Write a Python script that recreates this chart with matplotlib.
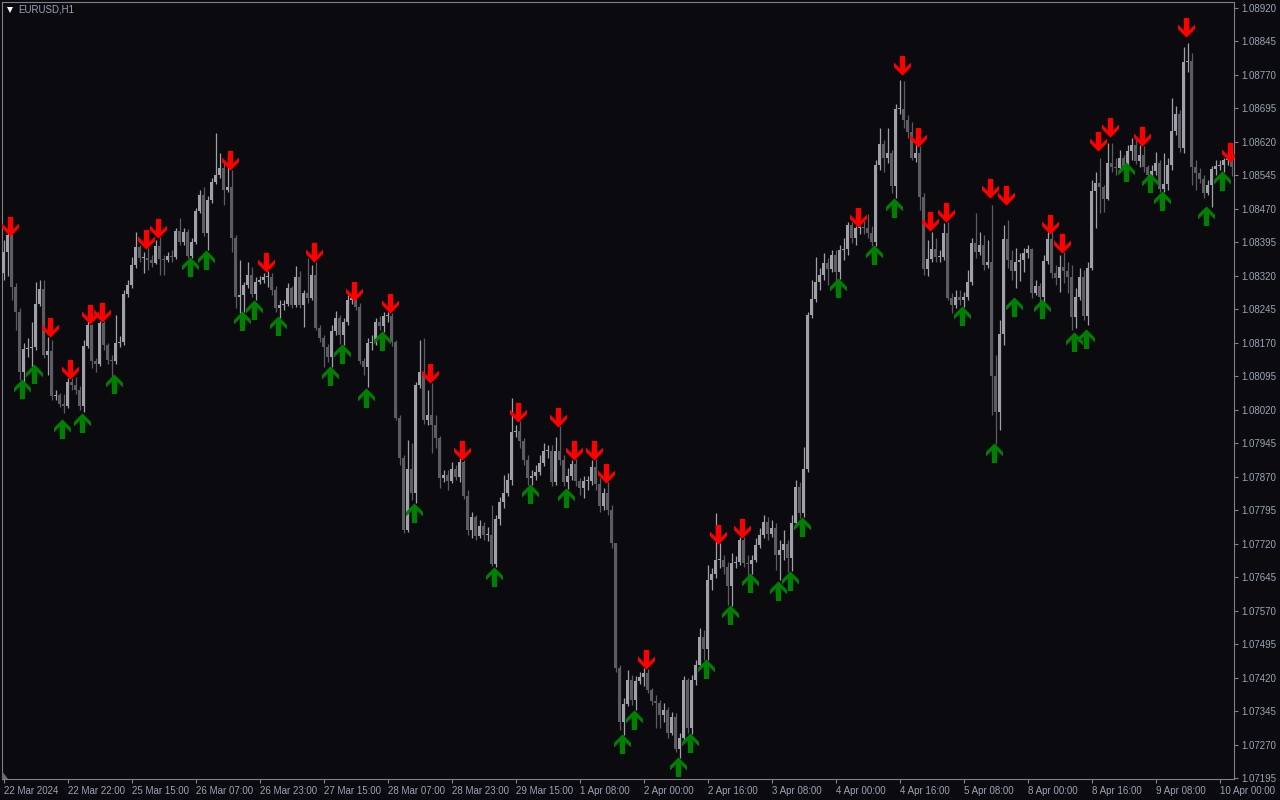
import matplotlib
matplotlib.use("Agg")
import matplotlib.pyplot as plt
import numpy as np
from matplotlib.path import Path
from matplotlib.patches import Polygon

plt.rcParams["font.family"] = ["Liberation Sans", "DejaVu Sans"]

# EURUSD H1, 22 Mar 2024 06:00 .. 10 Apr 2024 03:00 (one value per hourly bar)
first_open = 1.08326
close = [
    1.08374, 1.08412, 1.08295, 1.08239, 1.08105, 1.08156, 1.08158, 1.08161, 1.08257, 1.08291,
    1.08143, 1.08152, 1.08051, 1.08053, 1.08033, 1.08029, 1.08082, 1.08076, 1.08064, 1.08029,
    1.08163, 1.08210, 1.08129, 1.08123, 1.08214, 1.08165, 1.08132, 1.08129, 1.08170, 1.08172,
    1.08279, 1.08300, 1.08344, 1.08385, 1.08360, 1.08360, 1.08356, 1.08349, 1.08387, 1.08358,
    1.08356, 1.08365, 1.08362, 1.08421, 1.08396, 1.08418, 1.08365, 1.08396, 1.08465, 1.08501,
    1.08416, 1.08490, 1.08530, 1.08546, 1.08562, 1.08512, 1.08519, 1.08405, 1.08273, 1.08277,
    1.08300, 1.08322, 1.08279, 1.08306, 1.08311, 1.08318, 1.08318, 1.08288, 1.08248, 1.08255,
    1.08257, 1.08293, 1.08255, 1.08318, 1.08255, 1.08282, 1.08270, 1.08322, 1.08203, 1.08181,
    1.08161, 1.08138, 1.08197, 1.08226, 1.08188, 1.08217, 1.08266, 1.08270, 1.08250, 1.08129,
    1.08116, 1.08170, 1.08172, 1.08217, 1.08208, 1.08230, 1.08230, 1.08172, 1.08002, 1.07912,
    1.07751, 1.07887, 1.07834, 1.08076, 1.08105, 1.07997, 1.08008, 1.07986, 1.07957, 1.07867,
    1.07874, 1.07861, 1.07887, 1.07870, 1.07903, 1.07827, 1.07751, 1.07780, 1.07737, 1.07760,
    1.07740, 1.07740, 1.07675, 1.07775, 1.07814, 1.07834, 1.07863, 1.07970, 1.07973, 1.07950,
    1.07908, 1.07867, 1.07872, 1.07881, 1.07901, 1.07928, 1.07928, 1.07858, 1.07928, 1.07908,
    1.07858, 1.07872, 1.07899, 1.07861, 1.07845, 1.07861, 1.07861, 1.07892, 1.07854, 1.07805,
    1.07834, 1.07796, 1.07722, 1.07442, 1.07321, 1.07361, 1.07415, 1.07370, 1.07413, 1.07422,
    1.07430, 1.07392, 1.07368, 1.07363, 1.07336, 1.07348, 1.07296, 1.07332, 1.07260, 1.07285,
    1.07415, 1.07307, 1.07415, 1.07448, 1.07511, 1.07484, 1.07639, 1.07652, 1.07684, 1.07684,
    1.07668, 1.07625, 1.07677, 1.07679, 1.07728, 1.07677, 1.07675, 1.07684, 1.07717, 1.07740,
    1.07769, 1.07742, 1.07755, 1.07695, 1.07706, 1.07719, 1.07688, 1.07766, 1.07847, 1.07789,
    1.07887, 1.08232, 1.08268, 1.08306, 1.08322, 1.08349, 1.08335, 1.08367, 1.08329, 1.08378,
    1.08380, 1.08434, 1.08405, 1.08427, 1.08430, 1.08427, 1.08416, 1.08396, 1.08568, 1.08615,
    1.08584, 1.08595, 1.08521, 1.08694, 1.08694, 1.08669, 1.08642, 1.08584, 1.08595, 1.08497,
    1.08335, 1.08358, 1.08380, 1.08362, 1.08362, 1.08416, 1.08270, 1.08255, 1.08273, 1.08266,
    1.08273, 1.08306, 1.08394, 1.08374, 1.08389, 1.08344, 1.08351, 1.08096, 1.08015, 1.08190,
    1.08403, 1.08356, 1.08331, 1.08351, 1.08356, 1.08371, 1.08380, 1.08282, 1.08297, 1.08273,
    1.08353, 1.08403, 1.08326, 1.08315, 1.08340, 1.08331, 1.08318, 1.08228, 1.08273, 1.08318,
    1.08230, 1.08338, 1.08510, 1.08528, 1.08519, 1.08492, 1.08573, 1.08564, 1.08562, 1.08584,
    1.08564, 1.08600, 1.08613, 1.08577, 1.08591, 1.08564, 1.08546, 1.08555, 1.08573, 1.08515,
    1.08526, 1.08568, 1.08645, 1.08683, 1.08606, 1.08799, 1.08801, 1.08564, 1.08550, 1.08537,
    1.08506, 1.08524, 1.08559, 1.08566, 1.08568, 1.08580, 1.08582, 1.08564,
]
high = [
    1.08400, 1.08423, 1.08414, 1.08304, 1.08248, 1.08170, 1.08181, 1.08217, 1.08306, 1.08311,
    1.08311, 1.08183, 1.08176, 1.08064, 1.08058, 1.08055, 1.08091, 1.08091, 1.08094, 1.08073,
    1.08176, 1.08219, 1.08212, 1.08136, 1.08219, 1.08219, 1.08170, 1.08143, 1.08232, 1.08185,
    1.08288, 1.08311, 1.08362, 1.08418, 1.08389, 1.08374, 1.08382, 1.08367, 1.08400, 1.08407,
    1.08367, 1.08374, 1.08378, 1.08427, 1.08450, 1.08427, 1.08425, 1.08405, 1.08472, 1.08512,
    1.08519, 1.08499, 1.08539, 1.08640, 1.08595, 1.08580, 1.08591, 1.08557, 1.08412, 1.08356,
    1.08306, 1.08351, 1.08340, 1.08318, 1.08320, 1.08326, 1.08331, 1.08326, 1.08297, 1.08266,
    1.08266, 1.08304, 1.08297, 1.08342, 1.08331, 1.08288, 1.08360, 1.08344, 1.08351, 1.08210,
    1.08188, 1.08167, 1.08210, 1.08241, 1.08232, 1.08226, 1.08277, 1.08284, 1.08275, 1.08259,
    1.08136, 1.08181, 1.08188, 1.08226, 1.08230, 1.08239, 1.08239, 1.08237, 1.08176, 1.08008,
    1.07919, 1.07952, 1.07946, 1.08082, 1.08176, 1.08181, 1.08064, 1.08080, 1.08008, 1.07961,
    1.07885, 1.07885, 1.07903, 1.07896, 1.07912, 1.07908, 1.07840, 1.07791, 1.07784, 1.07773,
    1.07769, 1.07758, 1.07807, 1.07784, 1.07825, 1.07874, 1.07878, 1.08046, 1.07986, 1.07995,
    1.07957, 1.07919, 1.07885, 1.07896, 1.07919, 1.07946, 1.07941, 1.07941, 1.07959, 1.07984,
    1.07919, 1.07890, 1.07908, 1.07910, 1.07867, 1.07872, 1.07872, 1.07908, 1.07910, 1.07867,
    1.07845, 1.07858, 1.07807, 1.07722, 1.07448, 1.07374, 1.07437, 1.07426, 1.07424, 1.07433,
    1.07442, 1.07439, 1.07397, 1.07381, 1.07370, 1.07363, 1.07354, 1.07343, 1.07341, 1.07296,
    1.07424, 1.07419, 1.07426, 1.07460, 1.07531, 1.07527, 1.07672, 1.07666, 1.07789, 1.07722,
    1.07695, 1.07679, 1.07699, 1.07693, 1.07735, 1.07735, 1.07695, 1.07695, 1.07733, 1.07755,
    1.07784, 1.07780, 1.07773, 1.07766, 1.07728, 1.07751, 1.07728, 1.07784, 1.07863, 1.07858,
    1.07937, 1.08239, 1.08311, 1.08362, 1.08338, 1.08371, 1.08360, 1.08378, 1.08378, 1.08389,
    1.08405, 1.08441, 1.08441, 1.08432, 1.08432, 1.08445, 1.08459, 1.08432, 1.08580, 1.08651,
    1.08624, 1.08651, 1.08602, 1.08705, 1.08759, 1.08757, 1.08680, 1.08665, 1.08613, 1.08611,
    1.08506, 1.08400, 1.08418, 1.08405, 1.08378, 1.08438, 1.08441, 1.08282, 1.08288, 1.08288,
    1.08284, 1.08333, 1.08405, 1.08461, 1.08418, 1.08412, 1.08400, 1.08479, 1.08143, 1.08221,
    1.08434, 1.08445, 1.08378, 1.08382, 1.08371, 1.08382, 1.08389, 1.08382, 1.08311, 1.08304,
    1.08367, 1.08418, 1.08418, 1.08344, 1.08367, 1.08374, 1.08351, 1.08344, 1.08293, 1.08338,
    1.08333, 1.08351, 1.08535, 1.08553, 1.08584, 1.08524, 1.08618, 1.08618, 1.08584, 1.08602,
    1.08591, 1.08613, 1.08629, 1.08624, 1.08613, 1.08611, 1.08568, 1.08568, 1.08598, 1.08580,
    1.08595, 1.08584, 1.08718, 1.08701, 1.08692, 1.08833, 1.08842, 1.08819, 1.08580, 1.08562,
    1.08546, 1.08535, 1.08566, 1.08580, 1.08580, 1.08584, 1.08595, 1.08598,
]
low = [
    1.08311, 1.08320, 1.08266, 1.08199, 1.08087, 1.08071, 1.08138, 1.08116, 1.08154, 1.08253,
    1.08136, 1.08098, 1.08042, 1.08042, 1.08026, 1.08013, 1.08024, 1.08064, 1.08055, 1.08020,
    1.08015, 1.08158, 1.08114, 1.08105, 1.08118, 1.08154, 1.08123, 1.08094, 1.08123, 1.08161,
    1.08165, 1.08273, 1.08293, 1.08338, 1.08351, 1.08326, 1.08333, 1.08340, 1.08347, 1.08322,
    1.08322, 1.08351, 1.08351, 1.08358, 1.08389, 1.08389, 1.08360, 1.08360, 1.08391, 1.08461,
    1.08409, 1.08378, 1.08483, 1.08526, 1.08539, 1.08479, 1.08508, 1.08374, 1.08248, 1.08237,
    1.08239, 1.08293, 1.08273, 1.08266, 1.08302, 1.08304, 1.08295, 1.08277, 1.08239, 1.08226,
    1.08244, 1.08253, 1.08248, 1.08250, 1.08248, 1.08206, 1.08259, 1.08266, 1.08199, 1.08172,
    1.08116, 1.08127, 1.08116, 1.08188, 1.08167, 1.08165, 1.08210, 1.08257, 1.08244, 1.08123,
    1.08098, 1.08071, 1.08154, 1.08165, 1.08199, 1.08194, 1.08217, 1.08163, 1.07997, 1.07896,
    1.07744, 1.07746, 1.07818, 1.07811, 1.08069, 1.07988, 1.07986, 1.07923, 1.07934, 1.07845,
    1.07858, 1.07840, 1.07855, 1.07863, 1.07858, 1.07820, 1.07740, 1.07733, 1.07728, 1.07733,
    1.07728, 1.07726, 1.07670, 1.07668, 1.07762, 1.07800, 1.07827, 1.07852, 1.07959, 1.07934,
    1.07896, 1.07852, 1.07852, 1.07863, 1.07874, 1.07895, 1.07912, 1.07849, 1.07852, 1.07896,
    1.07849, 1.07843, 1.07863, 1.07849, 1.07829, 1.07822, 1.07840, 1.07852, 1.07840, 1.07791,
    1.07796, 1.07784, 1.07710, 1.07433, 1.07303, 1.07292, 1.07357, 1.07359, 1.07348, 1.07406,
    1.07401, 1.07386, 1.07359, 1.07307, 1.07307, 1.07321, 1.07285, 1.07292, 1.07254, 1.07240,
    1.07276, 1.07296, 1.07294, 1.07404, 1.07442, 1.07460, 1.07460, 1.07616, 1.07643, 1.07666,
    1.07652, 1.07583, 1.07581, 1.07666, 1.07672, 1.07668, 1.07650, 1.07652, 1.07679, 1.07710,
    1.07733, 1.07728, 1.07735, 1.07661, 1.07639, 1.07684, 1.07657, 1.07659, 1.07758, 1.07778,
    1.07780, 1.07881, 1.08226, 1.08262, 1.08288, 1.08311, 1.08300, 1.08329, 1.08297, 1.08313,
    1.08356, 1.08367, 1.08394, 1.08389, 1.08414, 1.08414, 1.08405, 1.08387, 1.08387, 1.08557,
    1.08553, 1.08573, 1.08506, 1.08494, 1.08683, 1.08651, 1.08629, 1.08580, 1.08575, 1.08468,
    1.08322, 1.08320, 1.08351, 1.08351, 1.08351, 1.08356, 1.08266, 1.08237, 1.08248, 1.08255,
    1.08250, 1.08266, 1.08300, 1.08360, 1.08367, 1.08333, 1.08338, 1.08008, 1.07943, 1.07975,
    1.08165, 1.08338, 1.08311, 1.08293, 1.08309, 1.08329, 1.08360, 1.08270, 1.08277, 1.08259,
    1.08262, 1.08347, 1.08315, 1.08300, 1.08284, 1.08304, 1.08282, 1.08199, 1.08203, 1.08266,
    1.08221, 1.08210, 1.08333, 1.08427, 1.08461, 1.08463, 1.08490, 1.08553, 1.08546, 1.08553,
    1.08557, 1.08555, 1.08580, 1.08571, 1.08564, 1.08553, 1.08530, 1.08540, 1.08546, 1.08508,
    1.08508, 1.08512, 1.08557, 1.08636, 1.08598, 1.08595, 1.08777, 1.08524, 1.08512, 1.08528,
    1.08494, 1.08501, 1.08474, 1.08546, 1.08557, 1.08553, 1.08568, 1.08544,
]

# signal arrows: bar index and price level of the arrow
sell_bars = [2, 12, 17, 22, 25, 36, 39, 57, 66, 78, 88, 97, 107, 115, 129, 139, 143, 148,
             151, 161, 179, 185, 214, 225, 229, 232, 236, 247, 251, 262, 265, 274, 277, 285,
             296, 307]
sell_price = [1.08432, 1.08206, 1.08111, 1.08235, 1.08239, 1.08403, 1.08427, 1.08580,
              1.08351, 1.08374, 1.08286, 1.08259, 1.08102, 1.07930, 1.08015, 1.08004,
              1.07930, 1.07930, 1.07878, 1.07462, 1.07742, 1.07755, 1.08452, 1.08792,
              1.08631, 1.08443, 1.08463, 1.08517, 1.08501, 1.08436, 1.08394, 1.08622,
              1.08654, 1.08633, 1.08878, 1.08598]
buy_bars = [5, 8, 15, 20, 28, 47, 51, 60, 63, 69, 82, 85, 91, 95, 103, 123, 132, 141, 155,
            158, 169, 172, 176, 182, 187, 194, 197, 200, 209, 218, 223, 240, 248, 253, 260,
            268, 271, 281, 287, 290, 301, 305]
buy_price = [1.08067, 1.08100, 1.07977, 1.07990, 1.08078, 1.08340, 1.08356, 1.08219,
             1.08244, 1.08208, 1.08096, 1.08145, 1.08046, 1.08174, 1.07789, 1.07646,
             1.07831, 1.07822, 1.07271, 1.07325, 1.07220, 1.07274, 1.07440, 1.07560,
             1.07632, 1.07614, 1.07637, 1.07758, 1.08293, 1.08367, 1.08472, 1.08230,
             1.07923, 1.08250, 1.08246, 1.08172, 1.08179, 1.08553, 1.08528, 1.08488,
             1.08454, 1.08533]

time_ticks = [0, 16, 32, 48, 64, 80, 96, 112, 128, 144, 160, 176, 192, 208, 224, 240, 256,
              272, 288, 304]
time_labels = ["22 Mar 2024", "22 Mar 22:00", "25 Mar 15:00", "26 Mar 07:00", "26 Mar 23:00",
               "27 Mar 15:00", "28 Mar 07:00", "28 Mar 23:00", "29 Mar 15:00", "1 Apr 08:00",
               "2 Apr 00:00", "2 Apr 16:00", "3 Apr 08:00", "4 Apr 00:00", "4 Apr 16:00",
               "5 Apr 08:00", "8 Apr 00:00", "8 Apr 16:00", "9 Apr 08:00", "10 Apr 00:00"]
price_labels = ["1.07195", "1.07270", "1.07345", "1.07420", "1.07495", "1.07570", "1.07645",
                "1.07720", "1.07795", "1.07870", "1.07945", "1.08020", "1.08095", "1.08170",
                "1.08245", "1.08320", "1.08395", "1.08470", "1.08545", "1.08620", "1.08695",
                "1.08770", "1.08845", "1.08920"]

BG = "#0b0b0f"
BULL = "#a0a0aa"
BEAR = "#5c5c61"
AXIS = "#808086"
TEXT = "#9aa3b4"

c = np.array(close)
o = np.r_[first_open, c[:-1]]
h = np.array(high)
l = np.array(low)
x = np.arange(len(c))
up = c >= o
cols = np.where(up, BULL, BEAR)

W, H = 1280, 800
fig = plt.figure(figsize=(12.8, 8), dpi=100, facecolor=BG)
ax = fig.add_axes([2 / W, 1 - 779 / H, 1232 / W, 777 / H], facecolor=BG)

ax.vlines(x, l, h, colors=cols, linewidth=0.9, zorder=2)
body_lo = np.minimum(o, c)
body_h = np.maximum(np.abs(c - o), 0.000018)
ax.bar(x, body_h, bottom=body_lo, width=0.8, color=cols, linewidth=0, zorder=3)

# thick arrow glyph (pointing up), pixel units
arrow_up = Path([(0, 9.5), (8, 1.5), (8, -2.8), (2.5, 2.7), (2.5, -9), (-2.5, -9),
                 (-2.5, 2.7), (-8, -2.8), (-8, 1.5), (0, 9.5)],
                [Path.MOVETO] + [Path.LINETO] * 8 + [Path.CLOSEPOLY])
arrow_dn = Path(arrow_up.vertices * [1, -1], arrow_up.codes)

ax.plot(np.array(sell_bars) - 0.35, sell_price, linestyle="none", marker=arrow_dn,
        markersize=14.5, color="#ff0000", markeredgewidth=0, zorder=4)
ax.plot(np.array(buy_bars) - 0.35, buy_price, linestyle="none", marker=arrow_up,
        markersize=14.5, color="#008000", markeredgewidth=0, zorder=4)

ax.set_xlim(-0.375, 307.625)
ax.set_ylim(1.071928, 1.089334)

for s in ax.spines.values():
    s.set_color(AXIS)
    s.set_linewidth(0.8)

ax.set_xticks(time_ticks, time_labels)
for t in ax.get_xticklabels():
    t.set_ha("left")
ax.yaxis.tick_right()
ax.set_yticks([float(p) for p in price_labels], price_labels)
ax.tick_params(axis="both", colors=AXIS, labelcolor=TEXT, labelsize=7,
               length=3, width=0.8, direction="out")
ax.tick_params(axis="x", pad=2)
ax.tick_params(axis="y", pad=2)

# symbol caption and small markers in the corners
ax.plot([(10 - 2) / 1232], [1 - (10 - 2) / 777], marker="v", markersize=4.5,
        color="white", markeredgewidth=0, transform=ax.transAxes, clip_on=False)
fig.text(18 / W, 1 - 10 / H, "EURUSD,H1", color=TEXT, fontsize=7, va="center", ha="left")
ax.add_patch(Polygon([(0, 0), (6 / 1232, 0), (0, 8 / 777)], closed=True,
                     transform=ax.transAxes, color="#6a6a70", linewidth=0, zorder=5))

fig.savefig("out.png", dpi=100, facecolor=BG)
